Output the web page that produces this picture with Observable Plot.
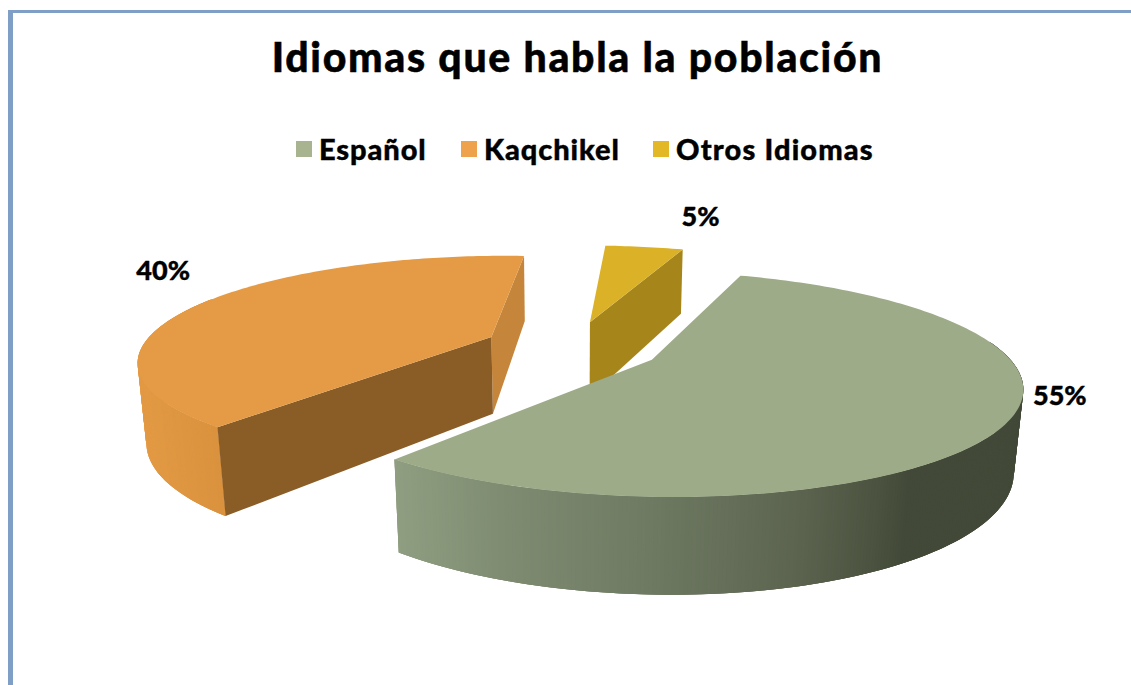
<!DOCTYPE html>
<html lang="es">
<head>
<meta charset="utf-8">
<title>Idiomas que habla la población</title>
<script src="https://cdn.jsdelivr.net/npm/d3@7"></script>
<script src="https://cdn.jsdelivr.net/npm/@observablehq/plot@0.6"></script>
<style>
  html, body { margin: 0; padding: 0; background: #fff; overflow: hidden; }
  #page { position: relative; width: 1131px; height: 685px; font-family: Lato, sans-serif; font-weight: 900; color: #000; overflow: hidden; }
  #frame { position: absolute; left: 8px; top: 10px; right: -6px; bottom: -6px; border-left: 5px solid #7F9FC6; border-top: 3px solid #7F9FC6; pointer-events: none; }
  #head { position: relative; height: 195px; }
  #title { position: absolute; left: 0; width: 1155px; top: 32px; text-align: center; font-size: 41px; line-height: 50px; letter-spacing: 1.7px; -webkit-text-stroke: 0.5px #000; }
  #legend { position: absolute; left: 296px; top: 131px; display: flex; font-size: 29px; line-height: 36px; letter-spacing: 0.9px; -webkit-text-stroke: 0.4px #000; }
  .item { display: flex; align-items: center; white-space: nowrap; }
  .item:nth-child(1) { width: 165px; }
  .item:nth-child(2) { width: 192px; }
  .item:nth-child(3) { letter-spacing: 1.15px; }
  .swatch { width: 16px; height: 16px; margin-right: 7px; flex: none; }
  svg { display: block; }
</style>
</head>
<body>
<div id="page">
  <div id="head">
    <div id="title">Idiomas que habla la población</div>
    <div id="legend"></div>
  </div>
  <div id="chart"></div>
  <div id="frame"></div>
</div>
<script>
// Data
const categories = ["Español", "Kaqchikel", "Otros Idiomas"];
const percents = [55.4, 40.1, 4.5];
const percentLabels = ["55%", "40%", "5%"];
// Estimated label placement, polar around each slice's apex (degrees clockwise from far side, radius units)
const labelAngles = [106.8, 304, 376.9];
const labelRadii = [1.092, 1.387, 1.536];

// Styles
const legendColors = ["#A7B48F", "#EDA24B", "#E2B826"];
const topColors = ["#9DAB88", "#E59A45", "#DBB128"];
const cutColors = ["#5A6350", "#8A5C26", "#A6851B"];
const sideCutColors = ["#7C8870", "#C5853A", "#A6851B"];
const greenWall = d3.scaleLinear()
  .domain([393, 500, 650, 800, 880, 910, 1030])
  .range(["#8F9E81", "#7F8C72", "#6E7A62", "#5C6450", "#4B523F", "#434938", "#434938"]);
const orangeWall = d3.scaleLinear().domain([135, 225]).range(["#E39A44", "#D9913D"]);

// View parameters of the tilted pie
const W = 1131, H = 490, headH = 195;
const cx = 572, cy = 346 - headH, Rx = 349, Ry = 102;
const tilt = 0.21, sink = 0.02, depth = 0.78, explode = 0.255, startAngle = 20;
const rad = d => d * Math.PI / 180;

function project(U, N, z) {
  const w = 1 - tilt * N + sink * z;
  return { x: U / w, y: (N + depth * z) / w };
}

// Slice angles
let acc = startAngle;
const slices = categories.map((name, i) => {
  const a0 = acc, a1 = acc + 360 * percents[i] / 100;
  acc = a1;
  const mid = (a0 + a1) / 2;
  return { i, name, a0, a1, ou: explode * Math.sin(rad(mid)), on: -explode * Math.cos(rad(mid)) };
});
const rim = (s, a, z) => project(s.ou + Math.sin(rad(a)), s.on - Math.cos(rad(a)), z);
const hub = (s, z) => project(s.ou, s.on, z);

const polys = [];
let pid = 0;
const addPoly = (pts, fill) => {
  const id = pid++;
  [...pts, pts[0]].forEach(p => polys.push({ id, x: p.x, y: p.y, fill }));
};
const arcPts = (s, z) => d3.range(s.a0, s.a1, 1).concat(s.a1).map(a => rim(s, a, z));

// Wall: narrow overlapping quads painted from back to front, shaded by horizontal position
function wall(s, from, to, color) {
  const n = Math.ceil(Math.abs(to - from) * 2);
  const step = (to - from) / n;
  for (let j = 0; j < n; j++) {
    const a = from + step * j;
    const b = from + step * Math.min(j + 3, n);
    const mx = cx + Rx * rim(s, a + step / 2, 0).x;
    addPoly([rim(s, a, 0), rim(s, b, 0), rim(s, b, 1), rim(s, a, 1)], color(mx));
  }
}
function cut(s, a, fill) {
  addPoly([hub(s, 0), rim(s, a, 0), rim(s, a, 1), hub(s, 1)], fill);
}

const [green, orange, yellow] = slices;
// yellow, at the back
cut(yellow, yellow.a1, cutColors[2]);
addPoly([hub(yellow, 0), ...arcPts(yellow, 0)], topColors[2]);
// orange
wall(orange, 295, orange.a0, orangeWall);
cut(orange, orange.a1, sideCutColors[1]);
cut(orange, orange.a0, cutColors[1]);
addPoly([hub(orange, 0), ...arcPts(orange, 0)], topColors[1]);
// green, in front
wall(green, 80, green.a1, greenWall);
addPoly([hub(green, 0), ...arcPts(green, 0)], topColors[0]);

const labels = slices.map((s, i) => {
  const p = project(s.ou + labelRadii[i] * Math.sin(rad(labelAngles[i])), s.on - labelRadii[i] * Math.cos(rad(labelAngles[i])), 0);
  return { x: p.x, y: p.y, text: percentLabels[i] };
});

const plot = Plot.plot({
  width: W, height: H,
  margin: 0,
  axis: null,
  x: { domain: [-cx / Rx, (W - cx) / Rx], range: [0, W] },
  y: { domain: [-cy / Ry, (H - cy) / Ry], range: [0, H] },
  color: { type: "identity" },
  marks: [
    Plot.line(polys, { x: "x", y: "y", z: "id", fill: "fill", stroke: "none", curve: "linear" }),
    Plot.text(labels, { x: "x", y: "y", text: "text", fontSize: 27, fontWeight: 900, fontFamily: "Lato, sans-serif", fill: "#000", stroke: "#000", strokeWidth: 0.4 })
  ]
});
document.getElementById("chart").appendChild(plot);

const legend = document.getElementById("legend");
categories.forEach((c, i) => {
  const item = document.createElement("div");
  item.className = "item";
  const sw = document.createElement("span");
  sw.className = "swatch";
  sw.style.background = legendColors[i];
  const t = document.createElement("span");
  t.textContent = c;
  item.append(sw, t);
  legend.append(item);
});
</script>
</body>
</html>
